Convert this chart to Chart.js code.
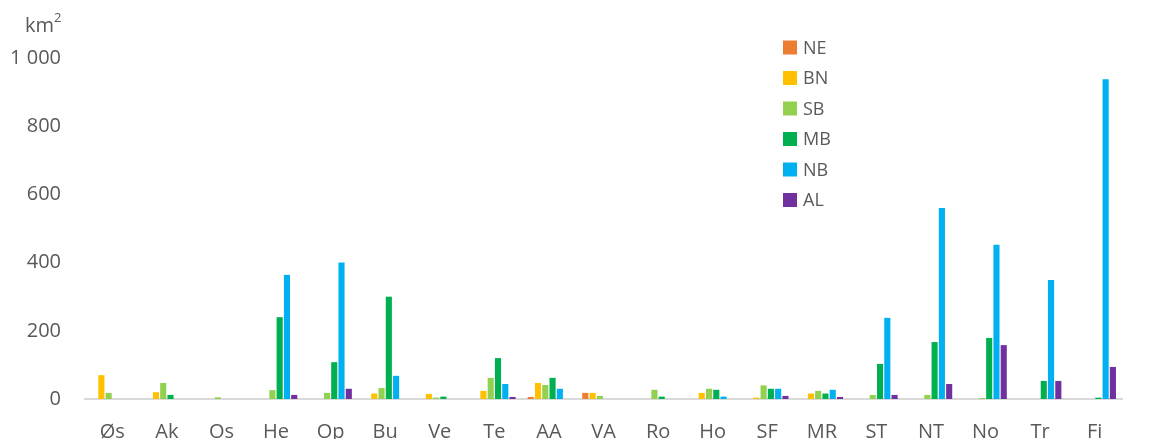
<!DOCTYPE html>
<html>
<head>
<meta charset="utf-8">
<script src="https://cdn.jsdelivr.net/npm/chart.js@4.4.1/dist/chart.umd.min.js"></script>
<style>
  html, body { margin: 0; padding: 0; background: #fff; }
  #wrap { width: 1151px; height: 439px; }
</style>
</head>
<body>
<div id="wrap"><canvas id="chart" width="1151" height="439"></canvas></div>
<script>
// fylker
const categories = ['Øs', 'Ak', 'Os', 'He', 'Op', 'Bu', 'Ve', 'Te', 'AA', 'VA', 'Ro', 'Ho', 'SF', 'MR', 'ST', 'NT', 'No', 'Tr', 'Fi']
const yTicks = [0, 200, 400, 600, 800, 1000]
// km2 per sone
const NE = [0, 0, 0, 0, 0, 0, 0, 0, 6, 18, 0, 0, 0, 0, 0, 0, 0, 0, 0]
const BN = [70, 20, 0, 0, 0, 16, 15, 24, 47, 18, 0, 18, 4, 16, 0, 0, 0, 0, 0]
const SB = [18, 47, 5, 26, 18, 32, 4, 62, 41, 9, 27, 30, 40, 24, 12, 12, 3, 0, 0]
const MB = [0, 12, 0, 240, 108, 300, 7, 120, 62, 0, 7, 27, 30, 16, 103, 167, 179, 53, 4]
const NB = [0, 0, 0, 364, 400, 68, 0, 44, 30, 0, 0, 7, 30, 27, 238, 560, 452, 349, 938]
const AL = [0, 0, 0, 12, 30, 0, 0, 6, 0, 0, 0, 0, 9, 6, 12, 44, 158, 53, 94]

const seriesNames = ['NE', 'BN', 'SB', 'MB', 'NB', 'AL']
const seriesValues = [NE, BN, SB, MB, NB, AL]
const seriesColors = ['#ED7D31', '#FFC000', '#92D050', '#00B050', '#00B0F0', '#7030A0']

const textColor = '#595959'
const fontFamily = '"Open Sans", "DejaVu Sans", sans-serif'

// legend + enhet tegnes selv (loddrett liste inne i plottet)
const extraText = {
  id: 'extraText',
  afterDraw(chart) {
    const ctx = chart.ctx
    ctx.save()
    ctx.fillStyle = textColor
    ctx.textBaseline = 'alphabetic'
    ctx.font = '20px ' + fontFamily
    ctx.fillText('km', 25, 32)
    ctx.font = '13px ' + fontFamily
    ctx.fillText('2', 54, 22)

    const lx = 783
    let ly = 47.5
    ctx.font = '18px ' + fontFamily
    ctx.textBaseline = 'middle'
    for (let i = 0; i < seriesNames.length; i++) {
      ctx.fillStyle = seriesColors[i]
      ctx.fillRect(lx, ly - 7, 14, 14)
      ctx.fillStyle = textColor
      ctx.fillText(seriesNames[i], lx + 20, ly + 1)
      ly += 30.5
    }
    ctx.restore()
  }
}

const datasets = seriesNames.map((name, i) => {
  return {
    label: name,
    data: seriesValues[i],
    backgroundColor: seriesColors[i],
    borderWidth: 0,
    categoryPercentage: 0.8,
    barPercentage: 0.84
  }
})

const config = {
  type: 'bar',
  data: {
    labels: categories,
    datasets: datasets
  },
  options: {
    responsive: false,
    animation: false,
    layout: {
      padding: { top: 58, right: 29, left: 0, bottom: 0 }
    },
    plugins: {
      legend: { display: false },
      tooltip: { enabled: false }
    },
    scales: {
      x: {
        grid: { display: false, drawTicks: false },
        border: { display: true, color: '#D9D9D9', width: 2 },
        ticks: {
          color: textColor,
          font: { family: fontFamily, size: 20 },
          padding: 21,
          maxRotation: 0,
          autoSkip: false
        },
        afterFit: scale => {
          scale.height = 40
        }
      },
      y: {
        min: 0,
        max: 1000,
        afterBuildTicks: scale => {
          scale.ticks = yTicks.map(v => ({ value: v }))
        },
        grid: { display: false, drawTicks: false },
        border: { display: false },
        ticks: {
          color: textColor,
          font: { family: fontFamily, size: 20 },
          padding: 24,
          callback: v => (v >= 1000 ? '1 000' : String(v))
        },
        afterFit: scale => {
          scale.width = 85
        }
      }
    }
  },
  plugins: [extraText]
}

new Chart(document.getElementById('chart').getContext('2d'), config)
</script>
</body>
</html>
